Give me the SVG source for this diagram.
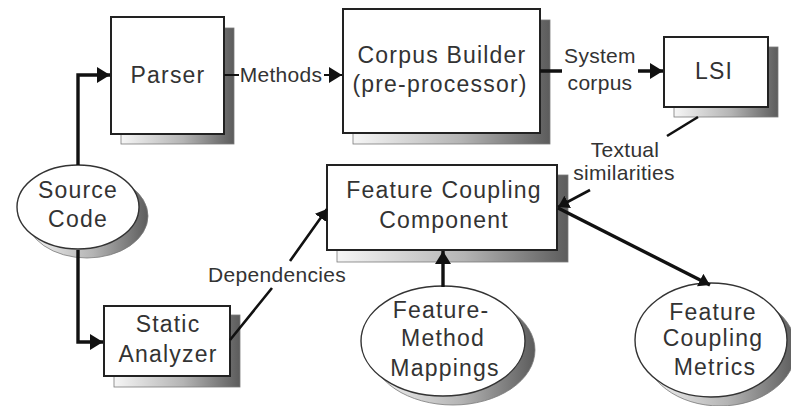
<svg xmlns="http://www.w3.org/2000/svg" width="791" height="406" viewBox="0 0 791 406">
  <defs>
    <linearGradient id="shade" x1="0" y1="0" x2="1" y2="0">
      <stop offset="0" stop-color="#f6f6f6"/>
      <stop offset="0.55" stop-color="#b4b4b4"/>
      <stop offset="1" stop-color="#5c5c5c"/>
    </linearGradient>
    <marker id="head" markerUnits="userSpaceOnUse" markerWidth="16" markerHeight="18" refX="13" refY="8" orient="auto">
      <path d="M0,0 L13,8 L0,16 z" fill="#111"/>
    </marker>
    <marker id="headSmall" markerUnits="userSpaceOnUse" markerWidth="14" markerHeight="16" refX="11" refY="7" orient="auto">
      <path d="M0,0 L11,7 L0,14 z" fill="#111"/>
    </marker>
    <style>
      .shadow { fill: url(#shade); stroke: #7a7a7a; stroke-width: 0.8; }
      .box { fill: #ffffff; stroke: #222; stroke-width: 2; }
      .oval { fill: #ffffff; stroke: #333; stroke-width: 1.4; }
      .node-text { font-family: "Liberation Sans", Arial, sans-serif; font-size: 23px; letter-spacing: 1.2px; fill: #333; text-anchor: middle; }
      .label { font-family: "Liberation Sans", Arial, sans-serif; font-size: 21px; letter-spacing: 0.3px; fill: #333; text-anchor: middle; }
      .wire { fill: none; stroke: #111; stroke-width: 2.6; }
      .wire-thin { fill: none; stroke: #111; stroke-width: 2; }
      .wire-bold { fill: none; stroke: #111; stroke-width: 3.4; }
    </style>
  </defs>

  <rect width="791" height="406" fill="#ffffff"/>

  <g id="parser">
    <rect class="shadow" x="121" y="28" width="113" height="116"/>
    <rect class="box" x="111" y="17" width="113" height="117"/>
    <text class="node-text" x="168" y="83">Parser</text>
  </g>

  <g id="corpus-builder">
    <rect class="shadow" x="353" y="20" width="197" height="124"/>
    <rect class="box" x="343" y="9" width="197" height="124"/>
    <text class="node-text" x="442" y="63">Corpus Builder</text>
    <text class="node-text" x="440" y="92">(pre-processor)</text>
  </g>

  <g id="lsi">
    <rect class="shadow" x="674" y="47" width="104" height="70"/>
    <rect class="box" x="664" y="37" width="104" height="70"/>
    <text class="node-text" x="714" y="79">LSI</text>
  </g>

  <g id="feature-coupling-component">
    <rect class="shadow" x="337" y="175" width="231" height="87"/>
    <rect class="box" x="327" y="165" width="230" height="85"/>
    <text class="node-text" x="444" y="198">Feature Coupling</text>
    <text class="node-text" x="444" y="228">Component</text>
  </g>

  <g id="static-analyzer">
    <rect class="shadow" x="114" y="315" width="126" height="72"/>
    <rect class="box" x="104" y="306" width="126" height="70"/>
    <text class="node-text" x="168" y="332">Static</text>
    <text class="node-text" x="168" y="362">Analyzer</text>
  </g>

  <g id="source-code">
    <ellipse class="shadow" cx="87" cy="216" rx="61" ry="42"/>
    <ellipse class="oval" cx="78" cy="207" rx="61" ry="42"/>
    <text class="node-text" x="78" y="198">Source</text>
    <text class="node-text" x="78" y="227">Code</text>
  </g>

  <g id="feature-method-mappings">
    <ellipse class="shadow" cx="453" cy="350" rx="82" ry="55"/>
    <ellipse class="oval" cx="443" cy="341" rx="82" ry="55"/>
    <text class="node-text" x="441" y="318">Feature-</text>
    <text class="node-text" x="443" y="346">Method</text>
    <text class="node-text" x="445" y="376">Mappings</text>
  </g>

  <g id="feature-coupling-metrics">
    <ellipse class="shadow" cx="720" cy="349" rx="76" ry="57"/>
    <ellipse class="oval" cx="711" cy="340" rx="76" ry="57"/>
    <text class="node-text" x="713" y="320">Feature</text>
    <text class="node-text" x="713" y="346">Coupling</text>
    <text class="node-text" x="715" y="375">Metrics</text>
  </g>

  <!-- connectors, drawn over the drop shadows -->
  <g id="connectors">
    <path class="wire-bold" d="M78,165 V75 H110" marker-end="url(#head)"/>
    <path class="wire-bold" d="M78,250 V342 H103" marker-end="url(#head)"/>
    <path class="wire-thin" d="M224,75 H239 M324,75 H342" marker-end="url(#head)"/>
    <path class="wire-bold" d="M540,71 H562 M638,71 H663" marker-end="url(#head)"/>
    <path class="wire" d="M698,117 L667,136"/>
    <path class="wire" d="M590,190 L558,207" marker-end="url(#headSmall)"/>
    <path class="wire-bold" d="M558,208 L710,285" marker-end="url(#headSmall)"/>
    <path class="wire-bold" d="M443,287 V251" marker-end="url(#head)"/>
    <path class="wire" d="M230,340 L272,288 M290,261 L327,209" marker-end="url(#headSmall)"/>
  </g>

  <!-- connector labels -->
  <g id="labels">
    <text class="label" x="281" y="82">Methods</text>
    <text class="label" x="600" y="63">System</text>
    <text class="label" x="600" y="90">corpus</text>
    <text class="label" x="625" y="157">Textual</text>
    <text class="label" x="624" y="180">similarities</text>
    <text class="label" x="277" y="282">Dependencies</text>
  </g>
</svg>
